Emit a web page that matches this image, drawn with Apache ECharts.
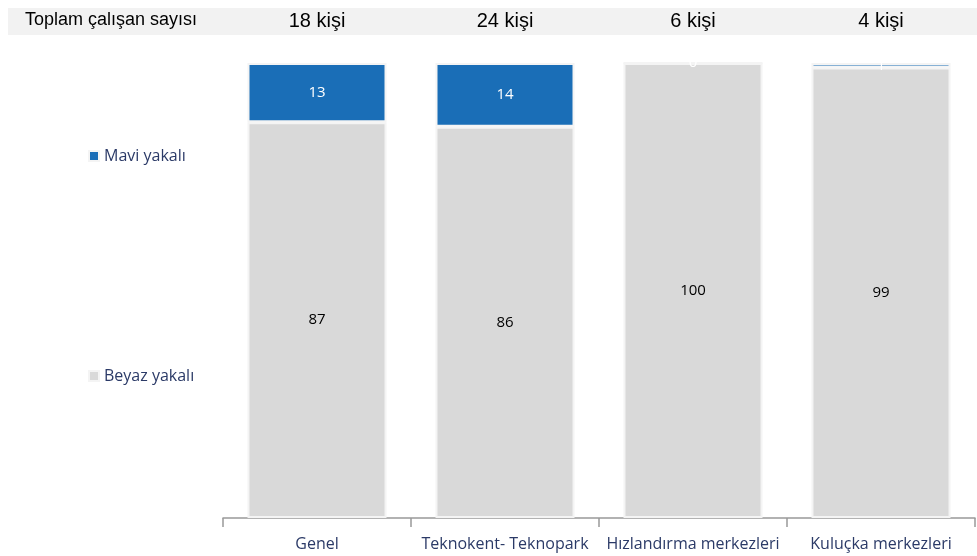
<!DOCTYPE html>
<html><head><meta charset="utf-8">
<script src="https://cdn.jsdelivr.net/npm/echarts@6/dist/echarts.min.js"></script>
<style>html,body{margin:0;padding:0;background:#fff}#c{width:977px;height:556px}</style>
</head><body><div id="c"></div>
<script>
const categories = ['Genel', 'Teknokent- Teknopark', 'Hızlandırma merkezleri', 'Kuluçka merkezleri'];
const totals = ['18 kişi', '24 kişi', '6 kişi', '4 kişi'];
const headerTitle = 'Toplam çalışan sayısı';
const beyaz = [87, 86, 100, 99];
const mavi = [13, 14, 0, 1];

const chart = echarts.init(document.getElementById('c'));
chart.setOption({
  animation: false,
  backgroundColor: '#fff',
  graphic: [
    { type: 'rect', shape: { x: 8, y: 8, width: 969, height: 27 }, style: { fill: '#f2f2f2' }, z: -1 },
    { type: 'text', left: 25, top: 11, style: { text: headerTitle, font: '18px "Liberation Sans Narrow", "Liberation Sans", Arial', fill: '#000' } }
  ],
  legend: {
    orient: 'vertical', left: 83, top: 143, itemGap: 204,
    itemWidth: 10, itemHeight: 10, icon: 'rect',
    data: ['Mavi yakalı', 'Beyaz yakalı'],
    textStyle: { color: '#2b3a67', fontSize: 16, fontFamily: 'Open Sans, sans-serif' }
  },
  grid: { left: 223, right: 2, top: 63, bottom: 38 },
  xAxis: [{
    type: 'category', data: categories,
    axisLine: { lineStyle: { color: '#999', width: 1.5 } },
    axisTick: { show: true, interval: 0, length: 9, lineStyle: { color: '#999', width: 1.5 } },
    axisLabel: { interval: 0, color: '#2b3a67', fontSize: 16, margin: 18, fontFamily: 'Open Sans, sans-serif' }
  }, {
    type: 'category', data: totals, position: 'top',
    axisLine: { show: false }, axisTick: { show: false },
    axisLabel: { interval: 0, color: '#000', fontSize: 20, margin: 32, fontFamily: '"Liberation Sans Narrow", "Liberation Sans", Arial' }
  }],
  yAxis: { type: 'value', min: 0, max: 100, show: false },
  series: [{
    name: 'Beyaz yakalı', type: 'bar', stack: 't', data: beyaz, barWidth: 139,
    itemStyle: { color: '#d9d9d9', borderColor: '#f4f4f4', borderWidth: 2 },
    label: { show: true, position: 'inside', color: '#000', fontSize: 15, fontFamily: 'Open Sans, sans-serif' }
  }, {
    name: 'Mavi yakalı', type: 'bar', stack: 't', data: mavi, barWidth: 139,
    itemStyle: { color: '#1a6eb7', borderColor: '#f4f4f4', borderWidth: 2 },
    label: { show: true, position: 'inside', color: '#fff', fontSize: 15, fontFamily: 'Open Sans, sans-serif' }
  }]
});
</script></body></html>
